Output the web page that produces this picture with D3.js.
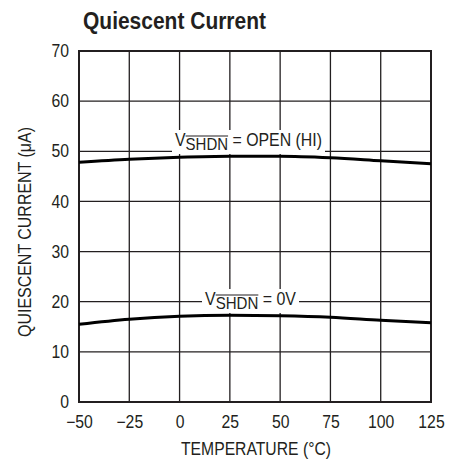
<!DOCTYPE html>
<html>
<head>
<meta charset="utf-8">
<script src="https://cdn.jsdelivr.net/npm/d3@7"></script>
<style>
    body { margin: 0; background: #fff; }
    svg { display: block; font-family: "Liberation Sans Narrow", "Liberation Sans", Arial, sans-serif; }
    text { fill: #231f20; }
</style>
</head>
<body>
<svg width="459" height="460"></svg>
<script>
// data
var temps = [-50, -25, 0, 25, 50, 75, 100, 125];
var openCurrent = [47.8, 48.4, 48.8, 49.0, 49.0, 48.7, 48.1, 47.5];
var zeroCurrent = [15.5, 16.5, 17.1, 17.3, 17.2, 16.9, 16.3, 15.8];
var xTicks = [-50, -25, 0, 25, 50, 75, 100, 125];
var yTicks = [0, 10, 20, 30, 40, 50, 60, 70];

var svg = d3.select("svg");

var x = d3.scaleLinear().domain([-50, 125]).range([79, 431]);
var y = d3.scaleLinear().domain([0, 70]).range([402, 51]);

// title
svg.append("text")
    .attr("x", 83)
    .attr("y", 29)
    .attr("font-size", "23.5px")
    .attr("font-weight", "bold")
    .attr("textLength", 183)
    .attr("lengthAdjust", "spacingAndGlyphs")
    .text("Quiescent Current");

// grid
var grid = svg.append("g").attr("stroke", "#231f20").attr("stroke-width", 1.3);
grid.selectAll("line.v")
    .data(xTicks.slice(1, -1))
    .enter()
    .append("line")
    .attr("class", "v")
    .attr("x1", d => x(d)).attr("x2", d => x(d))
    .attr("y1", y(70)).attr("y2", y(0));
grid.selectAll("line.h")
    .data(yTicks.slice(1, -1))
    .enter()
    .append("line")
    .attr("class", "h")
    .attr("x1", x(-50)).attr("x2", x(125))
    .attr("y1", d => y(d)).attr("y2", d => y(d));

// frame
svg.append("rect")
    .attr("x", x(-50)).attr("y", y(70))
    .attr("width", x(125) - x(-50))
    .attr("height", y(0) - y(70))
    .attr("fill", "none")
    .attr("stroke", "#231f20")
    .attr("stroke-width", 2);

// tick labels through d3 axes, lines hidden
var xAxis = svg.append("g")
    .attr("transform", "translate(0," + y(0) + ")")
    .call(d3.axisBottom(x).tickValues(xTicks).tickSize(0).tickPadding(14)
        .tickFormat(d => d < 0 ? "\u2212" + Math.abs(d) : d));
xAxis.select(".domain").remove();

var yAxis = svg.append("g")
    .attr("transform", "translate(" + (x(-50) - 1) + ",0)")
    .call(d3.axisLeft(y).tickValues(yTicks).tickSize(0).tickPadding(9));
yAxis.select(".domain").remove();

svg.selectAll(".tick text")
    .attr("fill", "#231f20")
    .style("font-family", "'Liberation Sans Narrow', 'Liberation Sans', Arial, sans-serif")
    .style("font-size", "17.5px");
svg.selectAll(".tick text").each(function () {
    var t = d3.select(this);
    var w = this.getComputedTextLength();
    t.attr("textLength", w * 0.9).attr("lengthAdjust", "spacingAndGlyphs");
});

svg.append("text")
    .attr("x", 256)
    .attr("y", 455)
    .attr("text-anchor", "middle")
    .attr("font-size", "17.5px")
    .attr("textLength", 150)
    .attr("lengthAdjust", "spacingAndGlyphs")
    .text("TEMPERATURE (\u00B0C)");

svg.append("text")
    .attr("transform", "translate(31,232) rotate(-90)")
    .attr("text-anchor", "middle")
    .attr("font-size", "17.5px")
    .attr("textLength", 210)
    .attr("lengthAdjust", "spacingAndGlyphs")
    .text("QUIESCENT CURRENT (\u03BCA)");

// curves
var line = d3.line()
    .x((d, i) => x(temps[i]))
    .y(d => y(d))
    .curve(d3.curveMonotoneX);

[openCurrent, zeroCurrent].forEach(function (s) {
    svg.append("path")
        .attr("d", line(s))
        .attr("fill", "none")
        .attr("stroke", "#000")
        .attr("stroke-width", 3);
});

// curve labels with white backing
function curveLabel(x0, by, rest, len) {
    var g = svg.append("g");
    var bg = g.append("rect").attr("fill", "#fff");
    var t = g.append("text")
        .attr("x", x0)
        .attr("y", by)
        .attr("font-size", "18px");
    t.append("tspan").text("V");
    var sub = t.append("tspan")
        .attr("dy", 4)
        .attr("font-size", "17px")
        .text("SHDN");
    t.append("tspan").attr("dy", -4).text(" = " + rest);

    t.attr("textLength", len).attr("lengthAdjust", "spacingAndGlyphs");

    var bb = t.node().getBBox();
    bg.attr("x", bb.x - 3).attr("y", bb.y)
        .attr("width", bb.width + 6).attr("height", bb.height);

    // overline above the subscript
    var n = sub.node();
    var s0 = n.getStartPositionOfChar(0);
    var e = n.getEndPositionOfChar(3);
    g.append("line")
        .attr("x1", s0.x).attr("x2", e.x)
        .attr("y1", by - 10).attr("y2", by - 10)
        .attr("stroke", "#231f20")
        .attr("stroke-width", 1.2);
}

curveLabel(175, 146, "OPEN (HI)", 147);
curveLabel(205, 305, "0V", 91);
</script>
</body>
</html>
